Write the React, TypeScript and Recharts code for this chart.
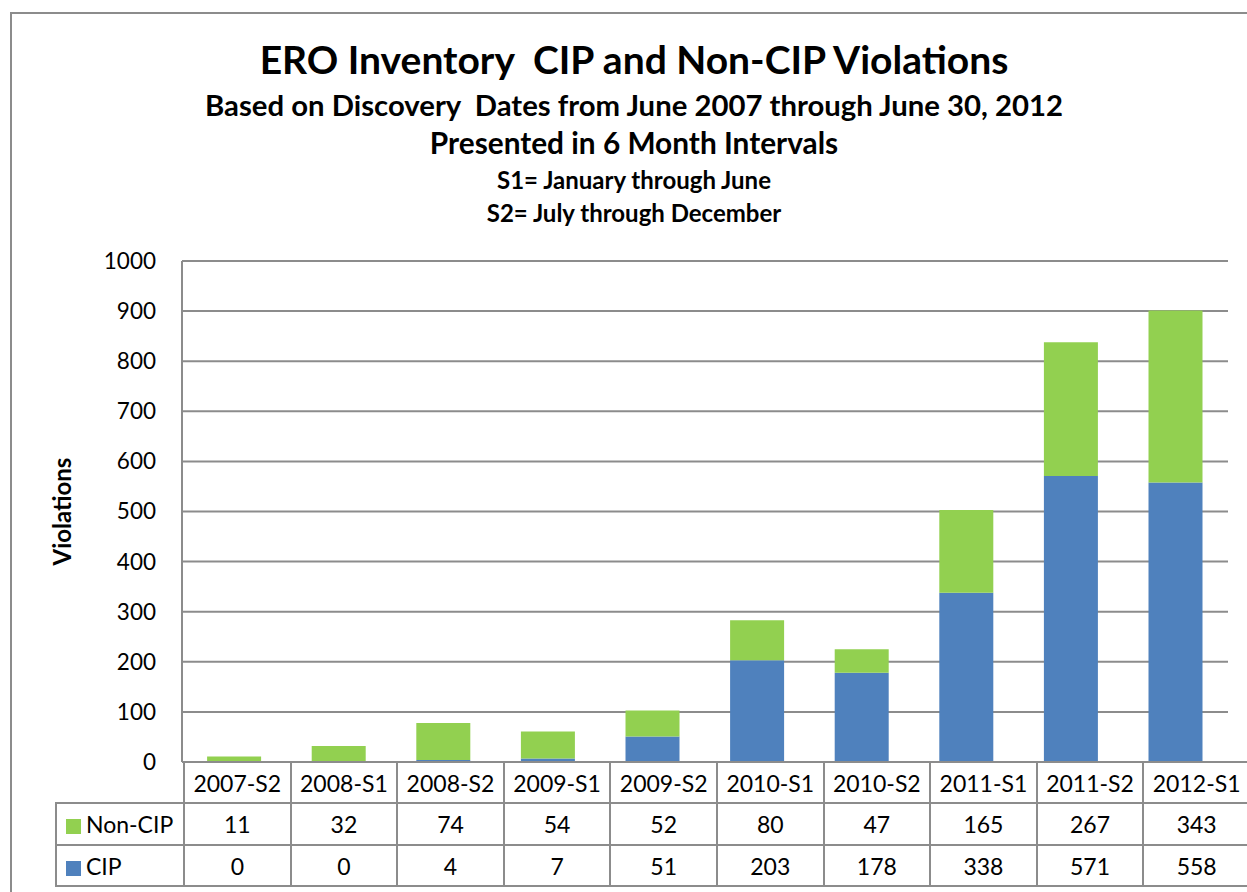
import { Bar, BarChart, CartesianGrid, XAxis, YAxis } from "recharts";

const periods = [
  "2007-S2", "2008-S1", "2008-S2", "2009-S1", "2009-S2",
  "2010-S1", "2010-S2", "2011-S1", "2011-S2", "2012-S1",
];
const nonCip = [11, 32, 74, 54, 52, 80, 47, 165, 267, 343];
const cip = [0, 0, 4, 7, 51, 203, 178, 338, 571, 558];
const yTicks = [0, 100, 200, 300, 400, 500, 600, 700, 800, 900, 1000];

const GREEN = "#92D050";
const BLUE = "#4F81BD";
const GRID = "#8c8c8c";
const FONT = "Lato, 'Open Sans', sans-serif";

const rows = periods.map((p, i) => ({ period: p, cip: cip[i], nonCip: nonCip[i] }));

const PLOT_LEFT = 182;
const PLOT_RIGHT = 1228;
const COL_W = (PLOT_RIGHT - PLOT_LEFT) / periods.length;

const cellBorder = `2px solid ${GRID}`;

function DataTable() {
  const tdBase: React.CSSProperties = {
    border: cellBorder,
    width: COL_W,
    textAlign: "center",
    padding: 0,
    fontSize: 23,
  };
  const legendRow = (label: string, color: string, values: number[], h: number) => (
    <tr style={{ height: h }}>
      <td style={{ border: cellBorder, width: 127, padding: "0 0 0 9px", fontSize: 23, textAlign: "left", whiteSpace: "nowrap" }}>
        <span style={{ display: "inline-block", width: 15, height: 15, background: color, marginRight: 5, verticalAlign: "-1px" }} />
        {label}
      </td>
      {values.map((v, i) => (
        <td key={i} style={tdBase}>{v}</td>
      ))}
    </tr>
  );
  return (
    <table
      style={{
        position: "absolute",
        left: 55,
        top: 761,
        borderCollapse: "collapse",
        tableLayout: "fixed",
        width: 127 + COL_W * periods.length,
        fontFamily: FONT,
        color: "#000",
      }}
    >
      <tbody>
        <tr style={{ height: 41 }}>
          <td style={{ border: "none", width: 127, padding: 0 }} />
          {periods.map((p) => (
            <td key={p} style={tdBase}>{p}</td>
          ))}
        </tr>
        {legendRow("Non-CIP", GREEN, nonCip, 42)}
        {legendRow("CIP", BLUE, cip, 41)}
      </tbody>
    </table>
  );
}

export default function App() {
  const line = (text: string, top: number, size: number) => (
    <div
      style={{
        position: "absolute",
        left: 0,
        width: 1268,
        top,
        textAlign: "center",
        fontSize: size,
        fontWeight: 700,
        lineHeight: 1,
        whiteSpace: "pre",
      }}
    >
      {text}
    </div>
  );
  return (
    <div
      style={{
        position: "absolute",
        left: 0,
        top: 0,
        width: 1247,
        height: 892,
        overflow: "hidden",
        background: "#fff",
        fontFamily: FONT,
      }}
    >
      <div
        style={{
          position: "absolute",
          left: 10,
          top: 12,
          width: 1400,
          height: 1000,
          borderLeft: `2px solid ${GRID}`,
          borderTop: `2px solid ${GRID}`,
        }}
      />
      {line("ERO Inventory  CIP and Non-CIP Violations", 40, 39)}
      {line("Based on Discovery  Dates from June 2007 through June 30, 2012", 90, 29.3)}
      {line("Presented in 6 Month Intervals", 128, 29.8)}
      {line("S1= January through June", 168, 24)}
      {line("S2= July through December", 201, 24)}
      <div style={{ position: "absolute", left: 0, top: 0 }}>
        <BarChart
          width={1247}
          height={892}
          data={rows}
          margin={{ top: 261, right: 1247 - PLOT_RIGHT, bottom: 130, left: PLOT_LEFT - 80 }}
          barCategoryGap="24%"
        >
          <CartesianGrid vertical={false} stroke={GRID} strokeWidth={2} />
          <XAxis dataKey="period" hide />
          <YAxis
            width={80}
            domain={[0, 1000]}
            ticks={yTicks}
            interval={0}
            tickLine={false}
            tickSize={0}
            tickMargin={26}
            axisLine={{ stroke: GRID, strokeWidth: 2 }}
            tick={{ fill: "#000", fontSize: 22.5, fontFamily: FONT }}
            label={{
              value: "Violations",
              angle: -90,
              position: "insideLeft",
              offset: -40,
              style: { fontSize: 24, fontWeight: 700, fill: "#000", fontFamily: FONT, textAnchor: "middle" },
            }}
          />
          <Bar dataKey="cip" stackId="a" fill={BLUE} isAnimationActive={false} />
          <Bar dataKey="nonCip" stackId="a" fill={GREEN} isAnimationActive={false} />
        </BarChart>
      </div>
      <DataTable />
    </div>
  );
}
